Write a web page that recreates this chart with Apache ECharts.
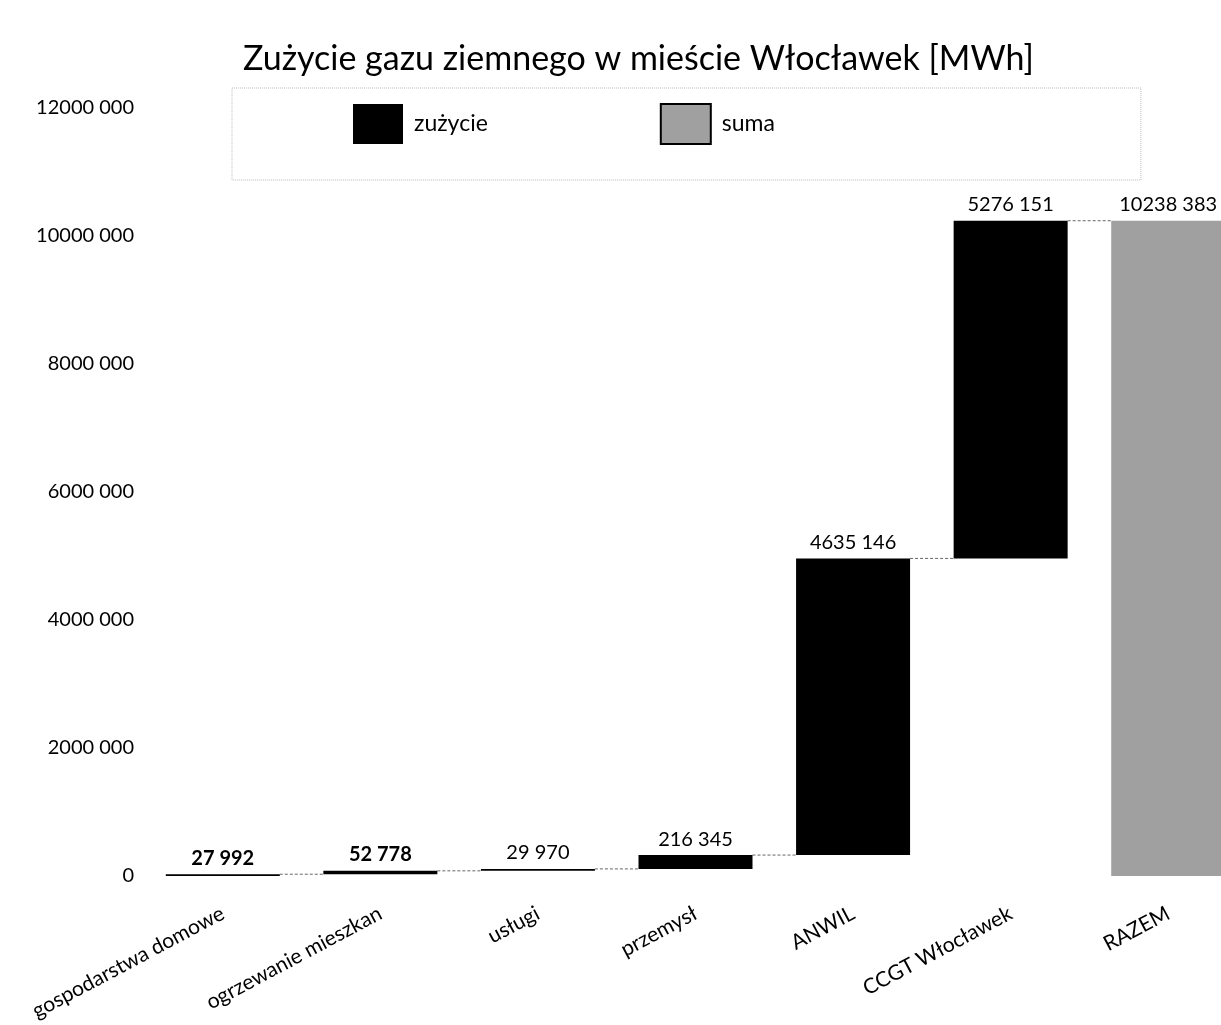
<!DOCTYPE html>
<html><head><meta charset="utf-8">
<script src="https://cdn.jsdelivr.net/npm/echarts@6/dist/echarts.min.js"></script>
<style>html,body{margin:0;padding:0;background:#fff;overflow:hidden}#c{width:1262px;height:1025px}</style>
</head><body><div id="c"></div>
<script>
const categories = ['gospodarstwa domowe','ogrzewanie mieszkan','usługi','przemysł','ANWIL','CCGT Włocławek','RAZEM'];
const zuzycie = [27992, 52778, 29970, 216345, 4635146, 5276151, null];
const suma = [null, null, null, null, null, null, 10238383];
const boldLabels = [true, true, false, false, false, false, false];

function fmt(v){
  if (v === 0) return '0';
  const th = Math.floor(v/1000), r = v % 1000;
  if (th === 0) return String(r);
  return th + ' ' + String(r).padStart(3,'0');
}
// waterfall offsets derived from the data
const base = []; const tops = []; let acc = 0;
zuzycie.forEach((v,i)=>{ if(v==null){base.push(0);} else {base.push(acc); acc += v; tops.push([i, acc]);} });
const zData = zuzycie.map((v,i)=> v==null ? null : (boldLabels[i] ? {value:v, label:{fontWeight:'bold'}} : v));

const FONT = 'Lato';
const BW = 114;
const chart = echarts.init(document.getElementById('c'));
chart.setOption({
  animation:false,
  textStyle:{fontFamily:FONT},
  title:{text:'Zużycie gazu ziemnego w mieście Włocławek [MWh]', left:238, top:37,
    textStyle:{fontFamily:FONT,fontSize:34,fontWeight:'normal',color:'#000'}},
  legend:{data:['zużycie',{name:'suma', itemStyle:{borderColor:'#000', borderWidth:2}}],
    left:232, top:88, padding:[15,366,35,121],
    borderColor:'#bbb', borderWidth:1, borderType:'dotted',
    itemWidth:50, itemHeight:40, itemGap:172, icon:'rect',
    textStyle:{fontFamily:FONT,fontSize:23,color:'#000', padding:[0,0,0,6]}},
  grid:{left:144, top:108, width:1103, height:768},
  xAxis:{type:'category', data:categories, axisLine:{show:false}, axisTick:{show:false},
    axisLabel:{rotate:28, interval:0, margin:36, fontFamily:FONT, fontSize:21, color:'#000'}},
  yAxis:{type:'value', min:0, max:12000000, interval:2000000, splitLine:{show:false},
    axisLine:{show:false}, axisTick:{show:false},
    axisLabel:{formatter:fmt, margin:10, fontFamily:FONT, fontSize:20, color:'#000'}},
  series:[
    {name:'base', type:'bar', stack:'w', data:base, barWidth:BW, itemStyle:{color:'transparent'}, silent:true},
    {name:'zużycie', type:'bar', stack:'w', data:zData, barWidth:BW, itemStyle:{color:'#000'},
      label:{show:true, position:'top', distance:6, fontFamily:FONT, fontSize:20, color:'#000',
        formatter:p=>fmt(p.value)}},
    {name:'suma', type:'bar', stack:'w', data:suma, barWidth:BW, itemStyle:{color:'#a0a0a0'},
      label:{show:true, position:'top', distance:6, fontFamily:FONT, fontSize:20, color:'#000', formatter:p=>fmt(p.value)}},
    {name:'conn', type:'custom', data:tops, silent:true, z:1,
      renderItem:(params, api)=>{
        const i = api.value(0), v = api.value(1);
        const p1 = api.coord([i, v]); const p2 = api.coord([i+1, v]);
        const half = BW/2;
        return {type:'line', shape:{x1:p1[0]+half, y1:p1[1], x2:p2[0]-half, y2:p2[1]},
          style:{stroke:'#666', lineWidth:1, lineDash:[3,2]}};
      }}
  ]
});
</script></body></html>
